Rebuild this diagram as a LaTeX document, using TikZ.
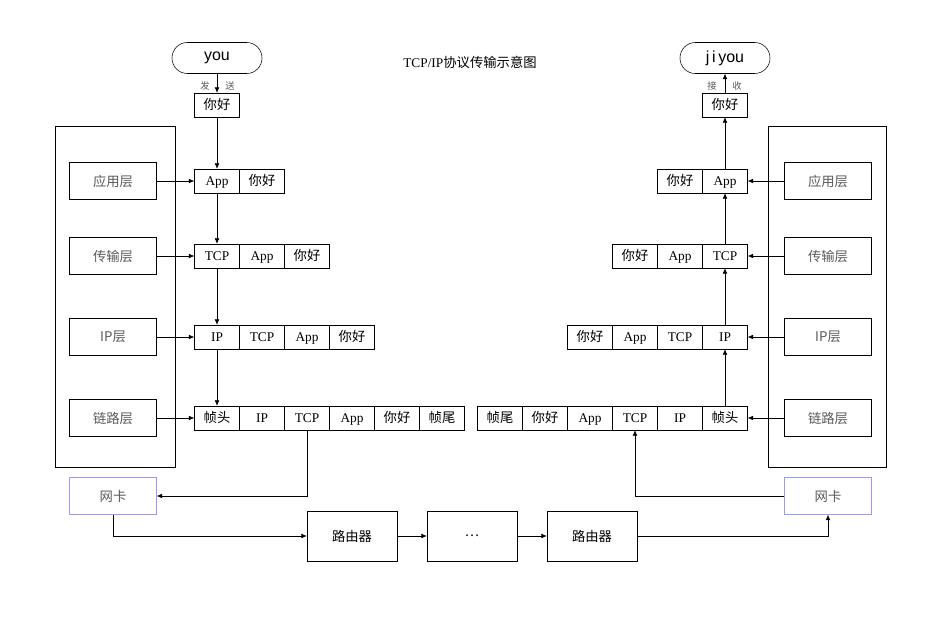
\documentclass[tikz,border=0pt]{standalone}
\usepackage{fontspec}
\setmainfont{Liberation Serif}
\newfontfamily\cjk{Noto Sans CJK SC}
\newfontfamily\sans{Liberation Sans}
\newcommand{\zh}[1]{{\cjk #1}}
\usetikzlibrary{arrows.meta}
\tikzset{
  cell/.style={draw,minimum width=33.75pt,minimum height=18pt,inner sep=0pt,text height=7.5pt,text depth=1.5pt,font=\normalsize},
  layer/.style={draw,minimum width=65.25pt,minimum height=27.75pt,inner sep=0pt,font=\cjk\normalsize,text=black!65},
  user/.style={draw,rounded corners=11.5pt,minimum width=67.5pt,minimum height=23.25pt,font=\sans\large},
  router/.style={draw,minimum width=67.5pt,minimum height=37.5pt,font=\cjk\normalsize},
  nic/.style={draw=blue!40,minimum width=65.25pt,minimum height=27.75pt,font=\cjk\normalsize,text=black!65},
  tip/.style={font=\cjk\scriptsize,text=black!65},
  >={Latex[length=4pt,width=3.5pt]}
}
\begin{document}
\begin{tikzpicture}[x=0.75pt,y=-0.75pt]
  \useasboundingbox (0,0) rectangle (950,639);
  \node (title) at (470,62) {TCP/IP\zh{协议传输示意图}};

  % sending host
  \node[user] (you) at (217,58) {you};
  \node[tip] at (205,86) {发};
  \node[tip] at (230,86) {送};
  \node[cell] (smsg) at (217,105) {\zh{你好}};
  \draw (55,126) rectangle (175,467);
  \node[layer] (sapp) at (113,181) {应用层};
  \node[layer] (strans) at (113,256) {传输层};
  \node[layer] (sip) at (113,337) {IP层};
  \node[layer] (slink) at (113,418) {链路层};
  \foreach \t [count=\i] in {App,\zh{你好}}
    \node[cell] (sa\i) at (217+45*\i-45,181) {\t};
  \foreach \t [count=\i] in {TCP,App,\zh{你好}}
    \node[cell] (sb\i) at (217+45*\i-45,256) {\t};
  \foreach \t [count=\i] in {IP,TCP,App,\zh{你好}}
    \node[cell] (sc\i) at (217+45*\i-45,337) {\t};
  \foreach \t [count=\i] in {\zh{帧头},IP,TCP,App,\zh{你好},\zh{帧尾}}
    \node[cell] (sd\i) at (217+45*\i-45,418) {\t};
  \draw[->] (you) -- (smsg);
  \draw[->] (smsg) -- (sa1);
  \draw[->] (sa1) -- (sb1);
  \draw[->] (sb1) -- (sc1);
  \draw[->] (sc1) -- (sd1);
  \draw[->] (sapp) -- (sa1);
  \draw[->] (strans) -- (sb1);
  \draw[->] (sip) -- (sc1);
  \draw[->] (slink) -- (sd1);
  \node[nic] (snic) at (113,496) {网卡};
  \draw[->] (sd3.south) |- (snic.east);

  % routers
  \node[router] (r1) at (352,536) {路由器};
  \node[router] (dots) at (472,536) {\dots};
  \node[router] (r2) at (592,536) {路由器};
  \draw[->] (snic.south) |- (r1.west);
  \draw[->] (r1) -- (dots);
  \draw[->] (dots) -- (r2);

  % receiving host
  \node[user] (jiyou) at (725,58) {j\,i\,you};
  \node[tip] at (712,86) {接};
  \node[tip] at (737,86) {收};
  \node[cell] (rmsg) at (725,105) {\zh{你好}};
  \draw (768,126) rectangle (886,467);
  \node[layer] (rapp) at (828,181) {应用层};
  \node[layer] (rtrans) at (828,256) {传输层};
  \node[layer] (rip) at (828,337) {IP层};
  \node[layer] (rlink) at (828,418) {链路层};
  \foreach \t [count=\i] in {App,\zh{你好}}
    \node[cell] (ra\i) at (725-45*\i+45,181) {\t};
  \foreach \t [count=\i] in {TCP,App,\zh{你好}}
    \node[cell] (rb\i) at (725-45*\i+45,256) {\t};
  \foreach \t [count=\i] in {IP,TCP,App,\zh{你好}}
    \node[cell] (rc\i) at (725-45*\i+45,337) {\t};
  \foreach \t [count=\i] in {\zh{帧头},IP,TCP,App,\zh{你好},\zh{帧尾}}
    \node[cell] (rd\i) at (725-45*\i+45,418) {\t};
  \draw[->] (rmsg) -- (jiyou);
  \draw[->] (ra1) -- (rmsg);
  \draw[->] (rb1) -- (ra1);
  \draw[->] (rc1) -- (rb1);
  \draw[->] (rd1) -- (rc1);
  \draw[->] (rapp) -- (ra1);
  \draw[->] (rtrans) -- (rb1);
  \draw[->] (rip) -- (rc1);
  \draw[->] (rlink) -- (rd1);
  \node[nic] (rnic) at (828,496) {网卡};
  \draw[->] (r2.east) -| (rnic.south);
  \draw[->] (rnic.west) -| (rd3.south);
\end{tikzpicture}
\end{document}
